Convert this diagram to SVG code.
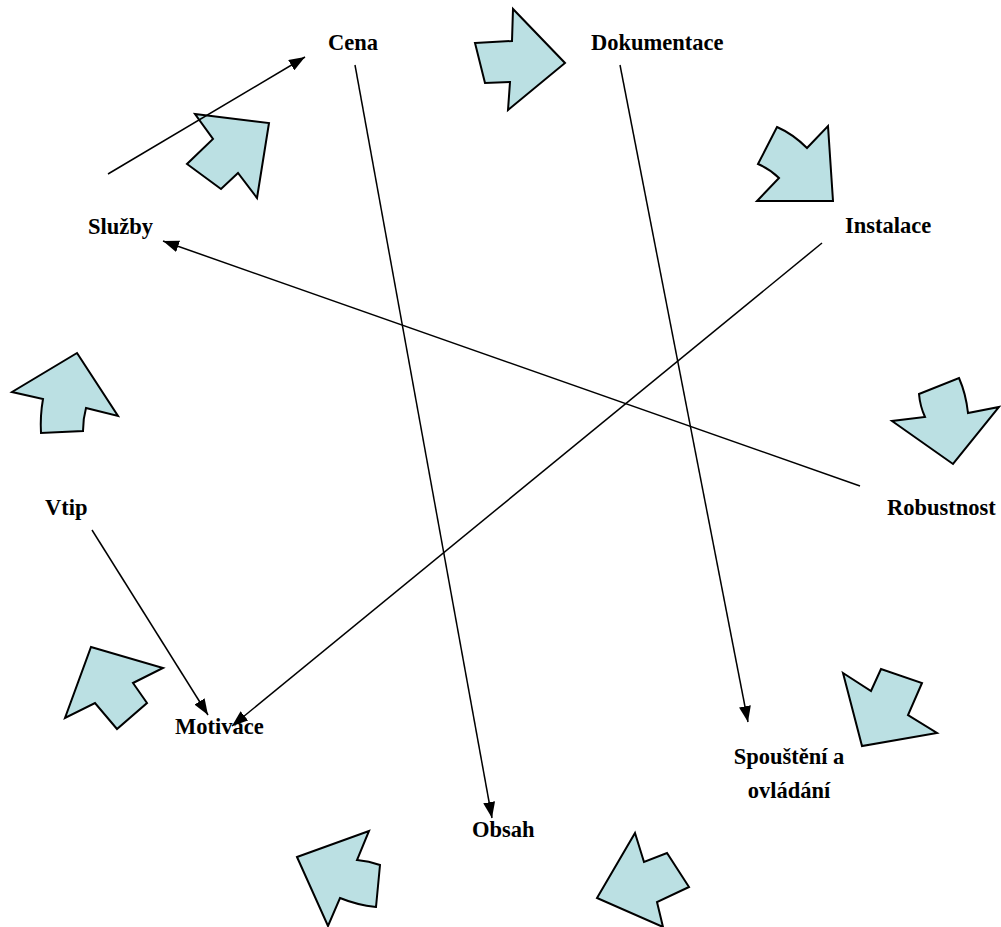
<svg xmlns="http://www.w3.org/2000/svg" width="1001" height="927" viewBox="0 0 1001 927">
<style>
.lbl{font-family:"Liberation Serif","Times New Roman",serif;font-weight:bold;font-size:22.5px;fill:#000}
.big{fill:#BBE0E3;stroke:#000;stroke-width:2;stroke-linejoin:miter}
.con{stroke:#000;stroke-width:1.5;fill:none;marker-end:url(#ah)}
</style>
<defs>
<marker id="ah" viewBox="0 0 16 12" refX="16" refY="6" markerWidth="16" markerHeight="12" markerUnits="userSpaceOnUse" orient="auto">
<path d="M0,0 L16,6 L0,12 Z" fill="#000"/>
</marker>
</defs>
<rect width="1001" height="927" fill="#fff"/>
<g id="cycle-arrows">
<polygon class="big" points="475,43 512,41 513,9 565,63 508,110 510,82 485,83"/>
<polygon class="big" points="195,114 269,123 257,198 238,173 221,189 187,164 213,139"/>
<path class="big" d="M777,127 Q793,134 807,148 L828,126 L833,201 L757,201 L779,178 Q770,169 758,164 Z"/>
<path class="big" d="M919,394 L959,378 Q966,394 968,413 L999,407 L953,464 L892,421 L925,417 Q920,406 919,394 Z"/>
<path class="big" d="M77,353 L118,416 L86,408 Q83,419 83,431 L41,433 Q40,416 43,399 L12,392 Z"/>
<polygon class="big" points="91,647 163,668 133,683 147,703 117,729 95,703 65,718"/>
<polygon class="big" points="843,673 871,691 881,669 922,683 908,715 937,733 862,746"/>
<path class="big" d="M297,857 L369,831 L357,860 Q369,861 380,865 L376,907 Q357,905 340,898 L328,926 Z"/>
<polygon class="big" points="635,833 644,862 667,853 689,887 657,902 663,927 597,898"/>
</g>
<g id="connectors">
<line class="con" x1="108" y1="174" x2="305" y2="57"/>
<line class="con" x1="355" y1="65" x2="492" y2="818"/>
<line class="con" x1="620" y1="65" x2="748" y2="722"/>
<line class="con" x1="822" y1="243" x2="232" y2="726"/>
<line class="con" x1="860" y1="486" x2="163" y2="241"/>
<line class="con" x1="92" y1="530" x2="208" y2="715"/>
</g>
<g id="node-cena"><text class="lbl" x="328" y="50">Cena</text></g>
<g id="node-dokumentace"><text class="lbl" x="591" y="50">Dokumentace</text></g>
<g id="node-instalace"><text class="lbl" x="845" y="233">Instalace</text></g>
<g id="node-sluzby"><text class="lbl" x="88" y="234">Služby</text></g>
<g id="node-robustnost"><text class="lbl" x="887" y="515">Robustnost</text></g>
<g id="node-vtip"><text class="lbl" x="45" y="515">Vtip</text></g>
<g id="node-motivace"><text class="lbl" x="175" y="734">Motivace</text></g>
<g id="node-spousteni"><text class="lbl" text-anchor="middle"><tspan x="789" y="764">Spouštění a</tspan><tspan x="789" y="798">ovládání</tspan></text></g>
<g id="node-obsah"><text class="lbl" x="472" y="837">Obsah</text></g>
</svg>
